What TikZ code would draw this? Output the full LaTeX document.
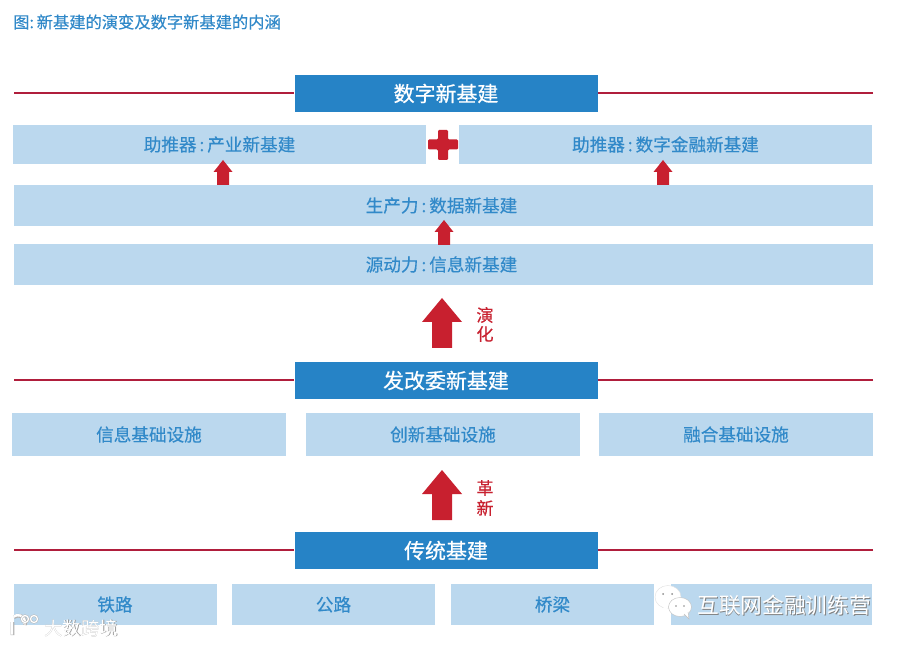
\documentclass[tikz,border=0pt]{standalone}
\usepackage{fontspec}
\setmainfont{Noto Sans CJK SC}
\newfontfamily\medfont[FakeBold=0.35]{Noto Sans CJK SC}
\newfontfamily\semifont[FakeBold=0.6]{Noto Sans CJK SC}
\newcommand{\lup}[1]{\raisebox{0.7pt}{#1}}
\newcommand{\cln}{\hspace{2.2pt}:\hspace{2.2pt}}
\definecolor{hdr}{HTML}{2683C6}
\definecolor{lite}{HTML}{BBD8EE}
\definecolor{txt}{HTML}{3189C9}
\definecolor{rd}{HTML}{C8202F}
\definecolor{lin}{HTML}{B01E3C}
\tikzset{x=0.75pt,y=-0.75pt,
 header/.style={fill=hdr,text=white,minimum width=227.25pt,minimum height=27.75pt,inner sep=0pt,font=\fontsize{15.7}{18}\selectfont\semifont},
 lbox/.style={fill=lite,text=txt,inner sep=0pt,font=\fontsize{13.2}{16}\selectfont\medfont},
 rule/.style={draw=lin,line width=1.1pt},
 rtext/.style={text=rd,inner sep=0pt,font=\fontsize{12.8}{15}\selectfont\medfont},
 wm/.style={text=white,inner sep=0pt}
}
\begin{document}
\begin{tikzpicture}
\useasboundingbox (0,0) rectangle (900,645);
\fill[white] (0,0) rectangle (900,645);
\node[anchor=west,text=txt,inner sep=0pt,font=\fontsize{12.2}{14}\selectfont\medfont] (title) at (13,22) {图:\,新基建的演变及数字新基建的内涵};
% headers
\node[header] (h1) at (446,93.5) {\lup{数字新基建}};
\node[header] (h2) at (446,380.5) {\lup{发改委新基建}};
\node[header] (h3) at (446,550.5) {\lup{传统基建}};
% rules
\foreach \n/\y in {h1/92.8,h2/380,h3/550}{
 \coordinate (\n l) at (14,\y);
 \coordinate (\n r) at (873,\y);
 \draw[rule] (\n l) -- (\n l -| \n.west);
 \draw[rule] (\n r) -- (\n r -| \n.east);
}
% upper rows
\node[lbox,minimum width=309.75pt,minimum height=29.25pt] (a1) at (219.5,144.5) {\lup{助推器\cln 产业新基建}};
\node[lbox,minimum width=309.75pt,minimum height=29.25pt] (a2) at (665.5,144.5) {\lup{助推器\cln 数字金融新基建}};
\node[lbox,minimum width=644.25pt,minimum height=30.75pt] (b) at (443.5,205.5) {\lup{\hspace{-3pt}生产力\cln 数据新基建}};
\node[lbox,minimum width=644.25pt,minimum height=30.75pt] (c) at (443.5,264.5) {\lup{\hspace{-3pt}源动力\cln 信息新基建}};
% middle row
\node[lbox,minimum width=205.5pt,minimum height=32.25pt] (d1) at (149,434.5) {\lup{信息基础设施}};
\node[lbox,minimum width=205.5pt,minimum height=32.25pt] (d2) at (443,434.5) {\lup{创新基础设施}};
\node[lbox,minimum width=205.5pt,minimum height=32.25pt] (d3) at (736,434.5) {\lup{融合基础设施}};
% bottom row
\node[lbox,minimum width=152.25pt,minimum height=30.75pt] (e1) at (115,604.5) {\lup{铁路}};
\node[lbox,minimum width=152.25pt,minimum height=30.75pt] (e2) at (333.5,604.5) {\lup{公路}};
\node[lbox,minimum width=152.25pt,minimum height=30.75pt] (e3) at (552.5,604.5) {\lup{桥梁}};
\node[lbox,minimum width=151pt,minimum height=30.75pt] (e4) at (771.5,604.5) {};
% plus
\fill[rd,rounded corners=0.8pt] (438,130) -- (448,130) -- (448,139.5) -- (458,139.5) -- (458,149.5) -- (448,149.5) -- (448,160) -- (438,160) -- (438,149.5) -- (428,149.5) -- (428,139.5) -- (438,139.5) -- cycle;
% small arrows
\foreach \x/\t in {223/160,663/160,444/220}{
 \fill[rd] (\x,\t) -- (\x+9.5,\t+12) -- (\x+6,\t+12) -- (\x+6,\t+25) -- (\x-6,\t+25) -- (\x-6,\t+12) -- (\x-9.5,\t+12) -- cycle;
}
% big arrows
\foreach \t in {298,470}{
 \fill[rd] (442,\t) -- (462,\t+24) -- (452,\t+24) -- (452,\t+50) -- (432,\t+50) -- (432,\t+24) -- (422,\t+24) -- cycle;
}
\node[rtext] (t1) at (485,315) {演};
\node[rtext] (t2) at (485,334) {化};
\node[rtext] (t3) at (485,488) {革};
\node[rtext] (t4) at (485,508) {新};
% watermarks
\node[text=black!50,inner sep=0pt,anchor=west,font=\fontsize{16.3}{18}\selectfont] (w1s) at (697.8,605.8) {互联网金融训练营};
\node[wm,anchor=west,font=\fontsize{16.3}{18}\selectfont] (w1) at (697,605) {互联网金融训练营};
\node[text=black!40,inner sep=0pt,anchor=west,font=\fontsize{13.8}{16}\selectfont] (w2s) at (44.7,628.7) {大数跨境};
\node[wm,anchor=west,font=\fontsize{13.8}{16}\selectfont] (w2) at (44,628) {大数跨境};
% wechat icon
\fill[white,draw=black!12,line width=0.3pt] (668,597) ellipse (13 and 11.5);
\fill[white] (664,606) -- (662,612) -- (670,607) -- cycle;
\fill[white,draw=black!25,line width=0.3pt] (680,607) ellipse (11.5 and 9.5);
\fill[white,draw=black!25,line width=0.3pt] (684,614) -- (689,619) -- (688,612);
\fill[black!45] (663,594) circle (1) (672,594) circle (1) (676,606) circle (0.9) (684,606) circle (0.9);
% logo
\draw[black!30,line width=2.8pt] (12.5,622) -- (12.5,635) (25,625) arc (20:-130:7);
\draw[white,line width=1.8pt] (12,621.5) -- (12,634.5) (24.5,624.5) arc (20:-130:7);
\draw[black!30,line width=1.6pt] (25,619) circle (3.5) (34,619) circle (3.5);
\draw[white,line width=1pt] (25,619) circle (3.5) (34,619) circle (3.5);
\end{tikzpicture}
\end{document}
